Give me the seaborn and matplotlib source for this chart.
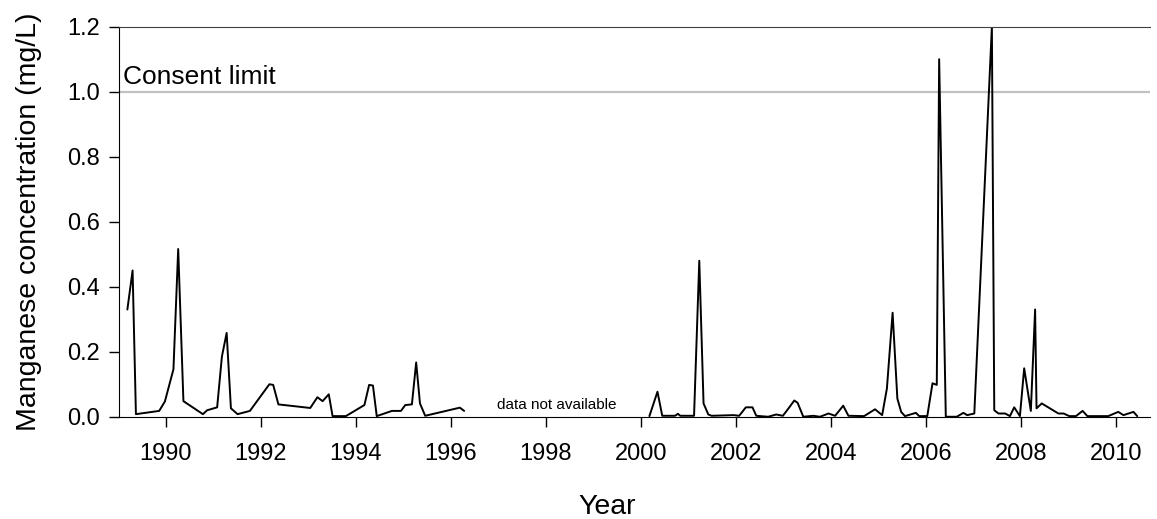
import seaborn as sns
import matplotlib.pyplot as plt
import pandas as pd

years_early = [1989.19, 1989.30, 1989.37, 1989.86, 1989.98, 1990.16, 1990.26, 1990.37,
               1990.78, 1990.87, 1991.08, 1991.18, 1991.28, 1991.37, 1991.51, 1991.77,
               1992.18, 1992.26, 1992.37, 1993.04, 1993.19, 1993.30, 1993.43, 1993.51,
               1993.79, 1994.18, 1994.28, 1994.36, 1994.44, 1994.76, 1994.95, 1995.04,
               1995.18, 1995.27, 1995.35, 1995.46, 1996.19, 1996.28]
mn_early = [0.33, 0.45, 0.008, 0.018, 0.047, 0.146, 0.516, 0.048,
            0.008, 0.02, 0.029, 0.185, 0.258, 0.026, 0.008, 0.018,
            0.10, 0.098, 0.038, 0.027, 0.06, 0.048, 0.069, 0.002,
            0.002, 0.036, 0.098, 0.096, 0.002, 0.018, 0.018, 0.036,
            0.038, 0.167, 0.041, 0.003, 0.028, 0.018]

years_late = [2000.18, 2000.35, 2000.45, 2000.72, 2000.78, 2000.83, 2001.12, 2001.23,
              2001.32, 2001.42, 2001.49, 2001.95, 2002.07, 2002.21, 2002.35, 2002.43,
              2002.68, 2002.85, 2002.99, 2003.11, 2003.23, 2003.30, 2003.42, 2003.63,
              2003.77, 2003.95, 2004.09, 2004.26, 2004.37, 2004.70, 2004.93, 2005.08,
              2005.18, 2005.30, 2005.40, 2005.48, 2005.56, 2005.79, 2005.86, 2006.03,
              2006.14, 2006.23, 2006.28, 2006.42, 2006.65, 2006.79, 2006.87, 2007.02,
              2007.39, 2007.44, 2007.53, 2007.67, 2007.77, 2007.86, 2007.98, 2008.07,
              2008.21, 2008.30, 2008.33, 2008.44, 2008.79, 2008.90, 2009.02, 2009.16,
              2009.30, 2009.40, 2009.84, 2010.05, 2010.16, 2010.37, 2010.45]
mn_late = [0.002, 0.077, 0.003, 0.003, 0.009, 0.003, 0.003, 0.48,
           0.041, 0.007, 0.003, 0.005, 0.003, 0.029, 0.029, 0.003,
           0.0, 0.007, 0.003, 0.026, 0.05, 0.043, 0.0, 0.003,
           0.0, 0.01, 0.003, 0.034, 0.003, 0.002, 0.023, 0.005,
           0.087, 0.32, 0.056, 0.015, 0.002, 0.012, 0.002, 0.002,
           0.103, 0.098, 1.10, 0.0, 0.0, 0.012, 0.005, 0.01,
           1.20, 0.02, 0.01, 0.01, 0.002, 0.029, 0.002, 0.149,
           0.018, 0.33, 0.026, 0.041, 0.01, 0.01, 0.002, 0.002,
           0.018, 0.002, 0.002, 0.015, 0.005, 0.015, 0.002]

consent_limit = 1.0
year_ticks = list(range(1990, 2011, 2))
mn_ticks = [0.0, 0.2, 0.4, 0.6, 0.8, 1.0, 1.2]

early = pd.DataFrame({"Year": years_early, "Mn": mn_early})
late = pd.DataFrame({"Year": years_late, "Mn": mn_late})

sns.set_style("ticks")
plt.rcParams["font.family"] = ["Liberation Sans", "DejaVu Sans"]
plt.rcParams.update({"text.color": "black", "axes.labelcolor": "black",
                     "xtick.color": "black", "ytick.color": "black"})

fig, ax = plt.subplots(figsize=(11.57, 5.19), dpi=100)
fig.subplots_adjust(left=0.1029, right=0.994, top=0.9486, bottom=0.197)

ax.axhline(consent_limit, color="#c0c0c0", lw=1.6, zorder=1)
sns.lineplot(x="Year", y="Mn", data=early, color="black", lw=1.4, ax=ax)
sns.lineplot(x="Year", y="Mn", data=late, color="black", lw=1.4, ax=ax)

ax.text(1989.1, 1.024, "Consent limit", fontsize=19, ha="left", va="baseline")
ax.text(1998.22, 0.036, "data not available", fontsize=11, ha="center", va="center")

ax.set_xlim(1989.015, 2010.72)
ax.set_ylim(0, 1.2)
ax.set_xticks(year_ticks)
ax.set_yticks(mn_ticks)
ax.set_yticklabels([f"{t:.1f}" for t in mn_ticks])
ax.tick_params(axis="both", labelsize=17, length=7, width=1, direction="out")
ax.tick_params(axis="x", pad=12)
ax.tick_params(axis="y", pad=7)

ax.set_xlabel("Year", fontsize=20.5)
ax.set_ylabel("Manganese concentration (mg/L)", fontsize=20.5)
ax.xaxis.set_label_coords(0.473, -0.198)
ax.yaxis.set_label_coords(-0.0747, 0.5)

ax.spines["right"].set_visible(False)
ax.spines["top"].set_color("#404040")
for s in ["left", "bottom"]:
    ax.spines[s].set_color("black")

plt.savefig("out.png", dpi=100)
